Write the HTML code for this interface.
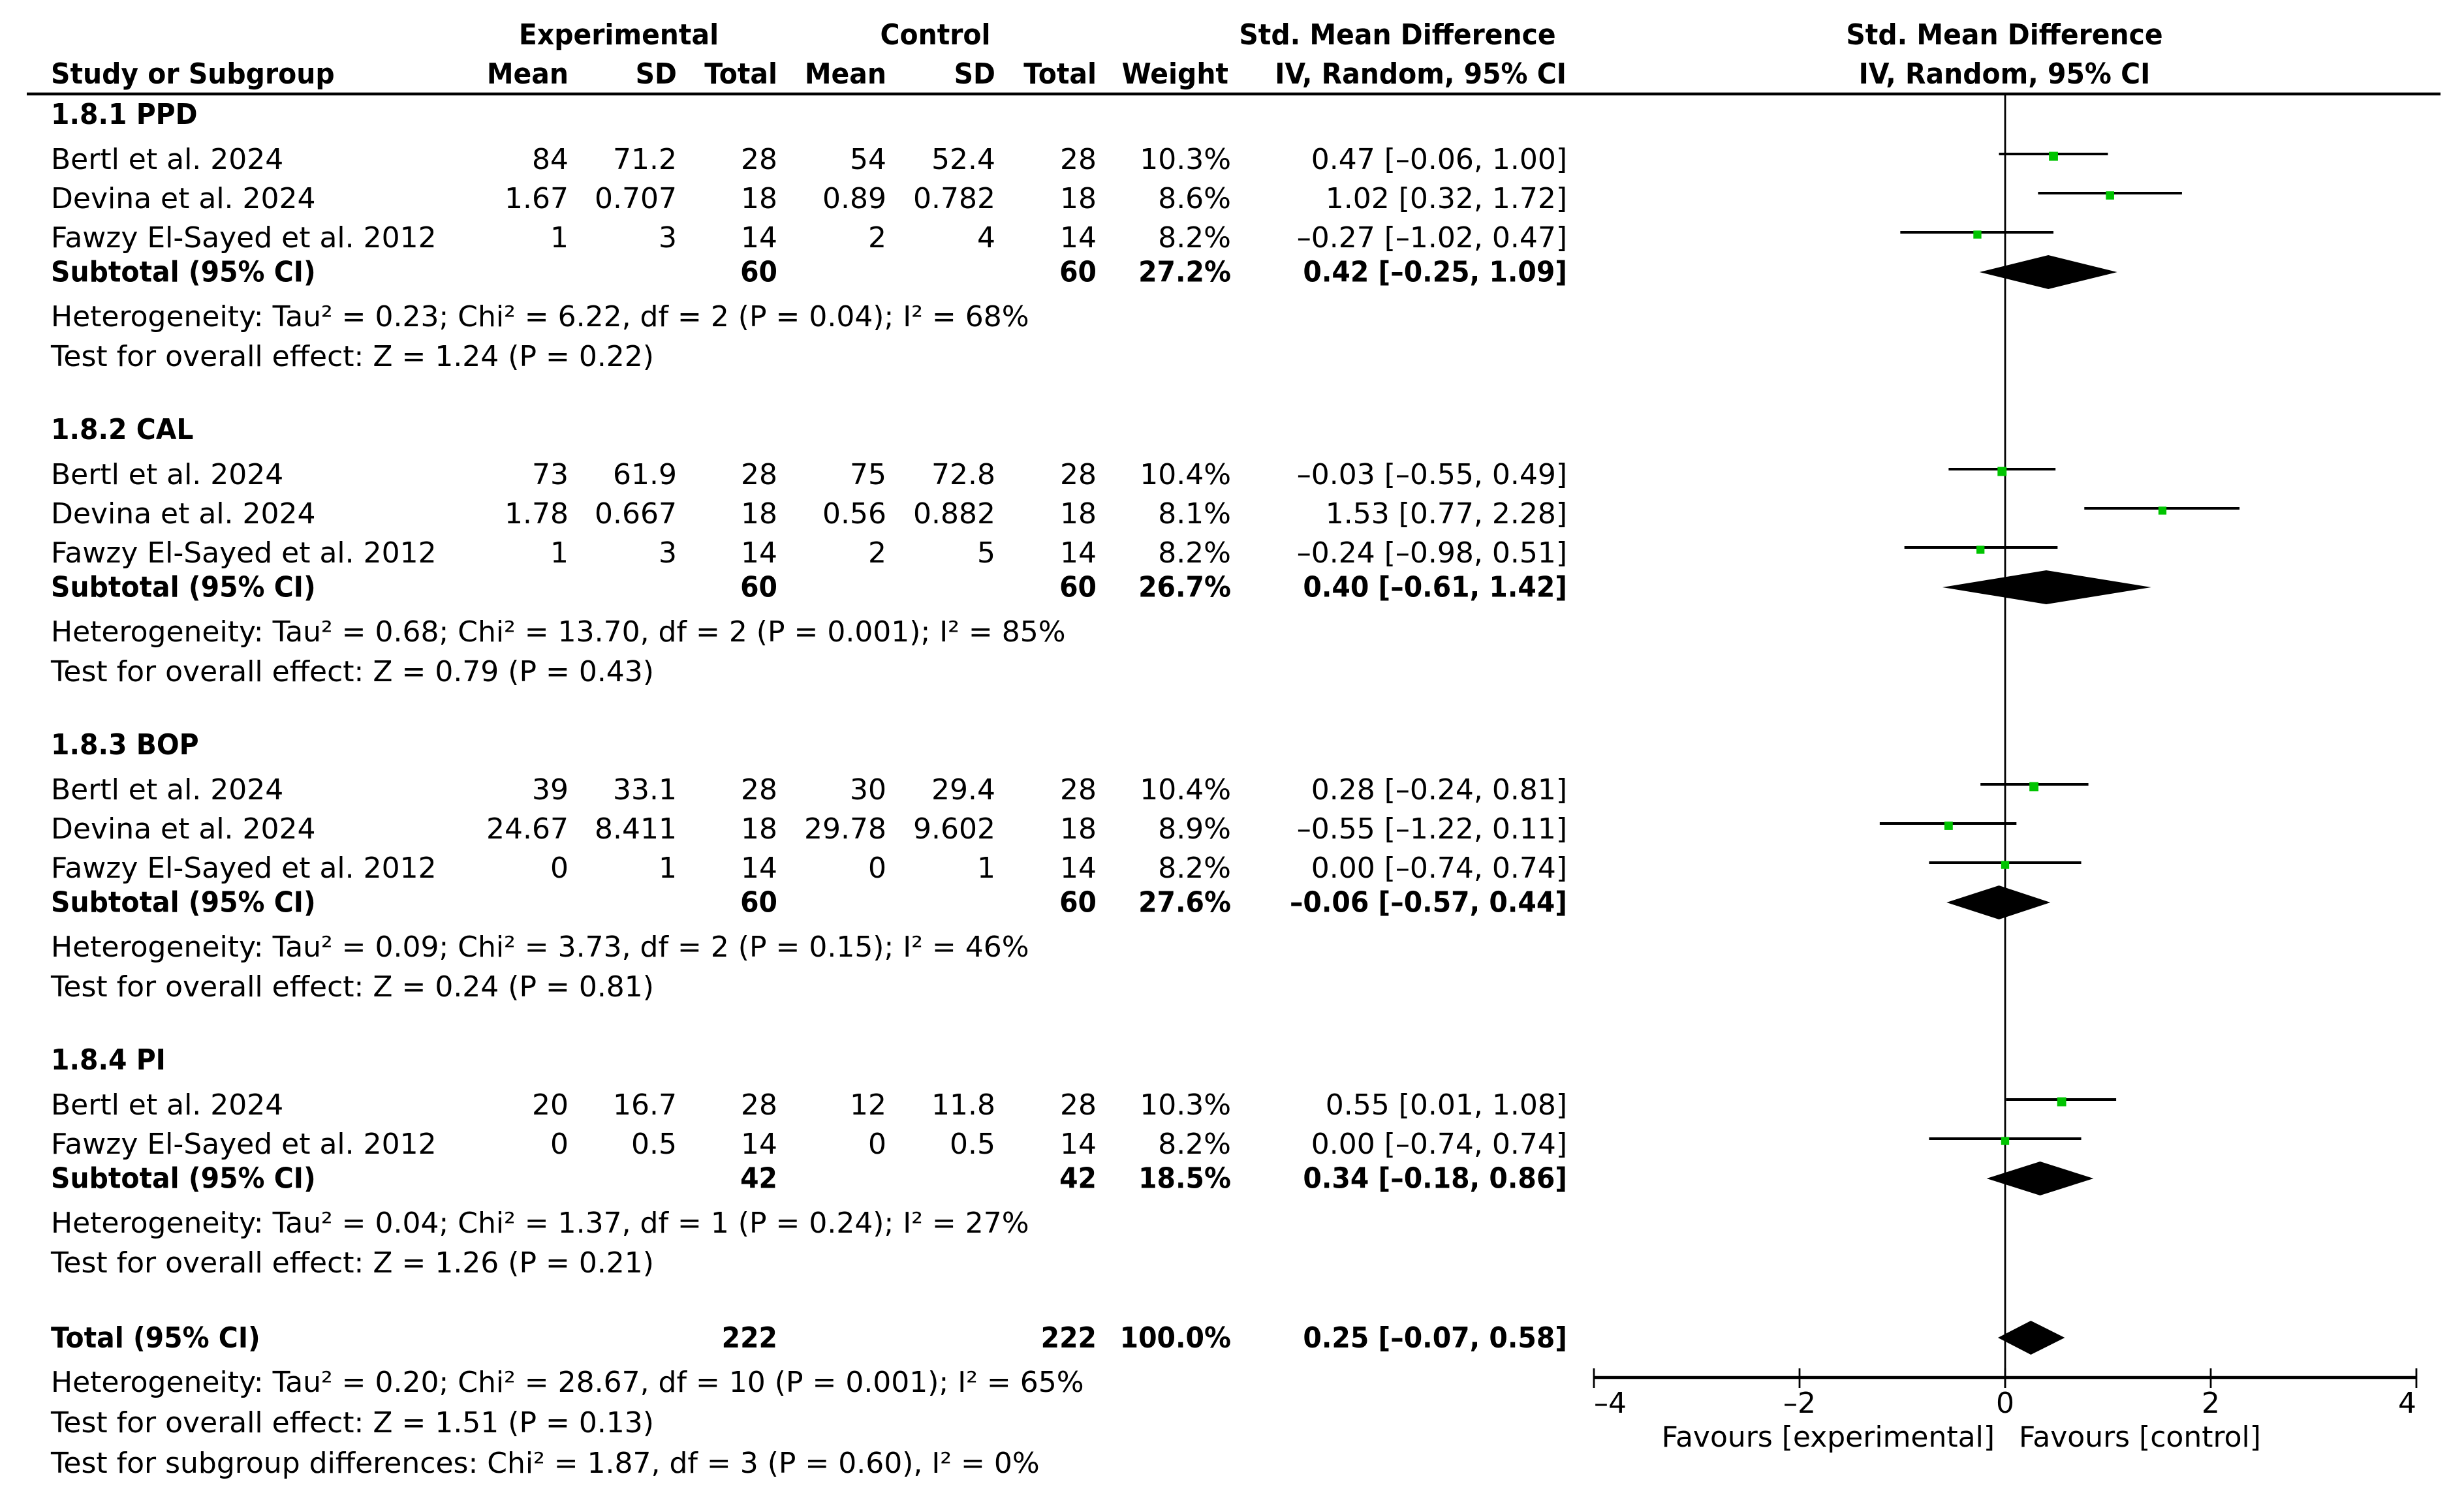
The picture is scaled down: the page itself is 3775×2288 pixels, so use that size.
<!DOCTYPE html>
<html lang="en">
<head>
<meta charset="utf-8">
<title>Forest plot</title>
<style>
html,body{margin:0;padding:0;background:#fff;width:3775px;height:2288px;overflow:hidden}
svg{display:block}
text{font-family:"DejaVu Sans","Liberation Sans",sans-serif;font-size:44px;fill:#000}
</style>
</head>
<body>
<svg id="plot" xmlns="http://www.w3.org/2000/svg" width="3775" height="2288" viewBox="0 0 3775 2288"></svg>
<script>
const groupTitles = ['1.8.1 PPD', '1.8.2 CAL', '1.8.3 BOP', '1.8.4 PI'];
const studyGroups = [0, 0, 0, 1, 1, 1, 2, 2, 2, 3, 3];
const studyNames = ['Bertl et al. 2024', 'Devina et al. 2024', 'Fawzy El-Sayed et al. 2012', 'Bertl et al. 2024', 'Devina et al. 2024', 'Fawzy El-Sayed et al. 2012', 'Bertl et al. 2024', 'Devina et al. 2024', 'Fawzy El-Sayed et al. 2012', 'Bertl et al. 2024', 'Fawzy El-Sayed et al. 2012'];
const expMeans = ['84', '1.67', '1', '73', '1.78', '1', '39', '24.67', '0', '20', '0'];
const expSDs = ['71.2', '0.707', '3', '61.9', '0.667', '3', '33.1', '8.411', '1', '16.7', '0.5'];
const expTotals = [28, 18, 14, 28, 18, 14, 28, 18, 14, 28, 14];
const ctrlMeans = ['54', '0.89', '2', '75', '0.56', '2', '30', '29.78', '0', '12', '0'];
const ctrlSDs = ['52.4', '0.782', '4', '72.8', '0.882', '5', '29.4', '9.602', '1', '11.8', '0.5'];
const ctrlTotals = [28, 18, 14, 28, 18, 14, 28, 18, 14, 28, 14];
const weights = [10.3, 8.6, 8.2, 10.4, 8.1, 8.2, 10.4, 8.9, 8.2, 10.3, 8.2];
const smdValues = [0.47, 1.02, -0.27, -0.03, 1.53, -0.24, 0.28, -0.55, 0.00, 0.55, 0.00];
const ciLows = [-0.06, 0.32, -1.02, -0.55, 0.77, -0.98, -0.24, -1.22, -0.74, 0.01, -0.74];
const ciHighs = [1.00, 1.72, 0.47, 0.49, 2.28, 0.51, 0.81, 0.11, 0.74, 1.08, 0.74];
const subExpTotals = [60, 60, 60, 42];
const subCtrlTotals = [60, 60, 60, 42];
const subWeights = [27.2, 26.7, 27.6, 18.5];
const subSmd = [0.42, 0.40, -0.06, 0.34];
const subLows = [-0.25, -0.61, -0.57, -0.18];
const subHighs = [1.09, 1.42, 0.44, 0.86];
const hetTexts = ['Heterogeneity: Tau² = 0.23; Chi² = 6.22, df = 2 (P = 0.04); I² = 68%', 'Heterogeneity: Tau² = 0.68; Chi² = 13.70, df = 2 (P = 0.001); I² = 85%', 'Heterogeneity: Tau² = 0.09; Chi² = 3.73, df = 2 (P = 0.15); I² = 46%', 'Heterogeneity: Tau² = 0.04; Chi² = 1.37, df = 1 (P = 0.24); I² = 27%'];
const effectTexts = ['Test for overall effect: Z = 1.24 (P = 0.22)', 'Test for overall effect: Z = 0.79 (P = 0.43)', 'Test for overall effect: Z = 0.24 (P = 0.81)', 'Test for overall effect: Z = 1.26 (P = 0.21)'];
const overallExpTotal = 222;
const overallCtrlTotal = 222;
const overallWeight = 100.0;
const overallSmd = 0.25;
const overallLow = -0.07;
const overallHigh = 0.58;
const footerTexts = ['Heterogeneity: Tau² = 0.20; Chi² = 28.67, df = 10 (P = 0.001); I² = 65%', 'Test for overall effect: Z = 1.51 (P = 0.13)', 'Test for subgroup differences: Chi² = 1.87, df = 3 (P = 0.60), I² = 0%'];
const axisTicks = [-4, -2, 0, 2, 4];

const NS = 'http://www.w3.org/2000/svg';
const svg = document.getElementById('plot');
const REG = 1.0, BOLD = 0.93;

function xScale(v) { return 3072 + v * 157.5; }
function groupTop(g) { return 190 + 483 * g; }
function fmt(v) { return (v < 0 ? '–' : '') + Math.abs(v).toFixed(2); }
function ciText(m, lo, hi) { return fmt(m) + ' [' + fmt(lo) + ', ' + fmt(hi) + ']'; }

function addText(name, str, x, y, anchor, bold) {
  const el = document.createElementNS(NS, 'text');
  
  
  el.setAttribute('text-anchor', anchor);
  el.setAttribute('font-weight', bold ? 'bold' : 'normal');
  el.setAttribute('transform', 'translate(' + x + ' ' + y + ') scale(' + (bold ? BOLD : REG) + ' 1)');
  el.textContent = str;
  svg.appendChild(el);
}
function addLine(name, x1, y1, x2, y2, w) {
  const el = document.createElementNS(NS, 'line');
  
  
  el.setAttribute('x1', x1);
  el.setAttribute('y1', y1);
  el.setAttribute('x2', x2);
  el.setAttribute('y2', y2);
  el.setAttribute('stroke', '#000');
  el.setAttribute('stroke-width', w);
  svg.appendChild(el);
}
function addDiamond(name, lo, m, hi, cy) {
  const el = document.createElementNS(NS, 'polygon');
  
  
  el.setAttribute('points', [xScale(lo) + ',' + cy, xScale(m) + ',' + (cy - 26), xScale(hi) + ',' + cy, xScale(m) + ',' + (cy + 26)].join(' '));
  el.setAttribute('fill', '#000');
  svg.appendChild(el);
}
function addMarker(name, m, cy, weight) {
  const s = 4.3 * Math.sqrt(weight);
  const el = document.createElementNS(NS, 'rect');
  
  
  el.setAttribute('x', xScale(m) - s / 2);
  el.setAttribute('y', cy - s / 2);
  el.setAttribute('width', s);
  el.setAttribute('height', s);
  el.setAttribute('fill', '#00c400');
  svg.appendChild(el);
}

const COL = { label: 78, eMean: 871, eSD: 1037, eTot: 1191, cMean: 1358, cSD: 1525, cTot: 1680, wt: 1886, ci: 2401 };

addText('experimental-header', 'Experimental', 948, 68, 'middle', true);
addText('control-header', 'Control', 1433, 68, 'middle', true);
addText('smd-table-header', 'Std. Mean Difference', 2141, 68, 'middle', true);
addText('smd-plot-header', 'Std. Mean Difference', 3071, 68, 'middle', true);
addText('study-column-header', 'Study or Subgroup', COL.label, 128, 'start', true);
addText('experimental-mean-header', 'Mean', COL.eMean, 128, 'end', true);
addText('experimental-sd-header', 'SD', COL.eSD, 128, 'end', true);
addText('experimental-total-header', 'Total', COL.eTot, 128, 'end', true);
addText('control-mean-header', 'Mean', COL.cMean, 128, 'end', true);
addText('control-sd-header', 'SD', COL.cSD, 128, 'end', true);
addText('control-total-header', 'Total', COL.cTot, 128, 'end', true);
addText('weight-header', 'Weight', 1882, 128, 'end', true);
addText('ci-table-header', 'IV, Random, 95% CI', 2400, 128, 'end', true);
addText('ci-plot-header', 'IV, Random, 95% CI', 3071, 128, 'middle', true);

addLine('header-rule', 41, 144, 3739, 144, 4.5);
addLine('zero-line', xScale(0), 144, xScale(0), 2127, 2.8);
addLine('x-axis-line', xScale(axisTicks[0]), 2111, xScale(axisTicks[axisTicks.length - 1]), 2111, 4.5);

axisTicks.forEach(function (t, i) {
  const anchor = i === 0 ? 'start' : (i === axisTicks.length - 1 ? 'end' : 'middle');
  addLine('x-tick-' + i, xScale(t), 2097, xScale(t), 2127, 2.8);
  addText('x-tick-label-' + i, (t < 0 ? '–' : '') + Math.abs(t), xScale(t), 2165, anchor, false);
});
addText('favours-experimental-label', 'Favours [experimental]', 3056, 2217, 'end', false);
addText('favours-control-label', 'Favours [control]', 3093, 2217, 'start', false);

groupTitles.forEach(function (title, g) {
  const top = groupTop(g);
  const key = 'group-' + (g + 1);
  addText(key + '-title', title, COL.label, top, 'start', true);
  let n = 0;
  studyNames.forEach(function (name, i) {
    if (studyGroups[i] !== g) return;
    const y = top + 69 + 60 * n;
    const r = key + '-study-' + (n + 1);
    addText(r + '-name', name, COL.label, y, 'start', false);
    addText(r + '-exp-mean', expMeans[i], COL.eMean, y, 'end', false);
    addText(r + '-exp-sd', expSDs[i], COL.eSD, y, 'end', false);
    addText(r + '-exp-total', String(expTotals[i]), COL.eTot, y, 'end', false);
    addText(r + '-ctrl-mean', ctrlMeans[i], COL.cMean, y, 'end', false);
    addText(r + '-ctrl-sd', ctrlSDs[i], COL.cSD, y, 'end', false);
    addText(r + '-ctrl-total', String(ctrlTotals[i]), COL.cTot, y, 'end', false);
    addText(r + '-weight', weights[i].toFixed(1) + '%', COL.wt, y, 'end', false);
    addText(r + '-smd-ci', ciText(smdValues[i], ciLows[i], ciHighs[i]), COL.ci, y, 'end', false);
    addLine(r + '-ci-whisker', xScale(ciLows[i]), y - 23, xScale(ciHighs[i]), y - 23, 4);
    addMarker(r + '-effect-marker', smdValues[i], y - 19.5, weights[i]);
    n++;
  });
  const sy = top + 63 + 60 * n;
  addText(key + '-subtotal-label', 'Subtotal (95% CI)', COL.label, sy - 1.5, 'start', true);
  addText(key + '-subtotal-exp-total', String(subExpTotals[g]), COL.eTot, sy - 1.5, 'end', true);
  addText(key + '-subtotal-ctrl-total', String(subCtrlTotals[g]), COL.cTot, sy - 1.5, 'end', true);
  addText(key + '-subtotal-weight', subWeights[g].toFixed(1) + '%', COL.wt, sy - 1.5, 'end', true);
  addText(key + '-subtotal-smd-ci', ciText(subSmd[g], subLows[g], subHighs[g]), COL.ci, sy - 1.5, 'end', true);
  addDiamond(key + '-subtotal-diamond', subLows[g], subSmd[g], subHighs[g], sy - 16);
  addText(key + '-heterogeneity', hetTexts[g], COL.label, sy + 67, 'start', false);
  addText(key + '-overall-effect', effectTexts[g], COL.label, sy + 128, 'start', false);
});

addText('total-label', 'Total (95% CI)', COL.label, 2065, 'start', true);
addText('total-exp-total', String(overallExpTotal), COL.eTot, 2065, 'end', true);
addText('total-ctrl-total', String(overallCtrlTotal), COL.cTot, 2065, 'end', true);
addText('total-weight', overallWeight.toFixed(1) + '%', COL.wt, 2065, 'end', true);
addText('total-smd-ci', ciText(overallSmd, overallLow, overallHigh), COL.ci, 2065, 'end', true);
addDiamond('total-diamond', overallLow, overallSmd, overallHigh, 2050);
addText('total-heterogeneity', footerTexts[0], COL.label, 2133, 'start', false);
addText('total-overall-effect', footerTexts[1], COL.label, 2195, 'start', false);
addText('subgroup-differences', footerTexts[2], COL.label, 2257, 'start', false);
</script>
</body>
</html>
